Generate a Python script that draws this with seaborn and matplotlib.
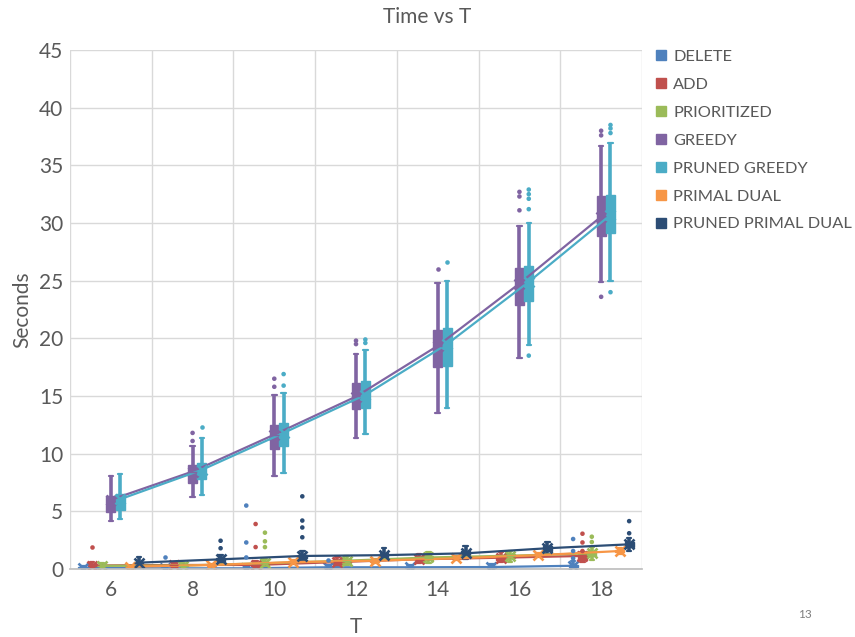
import numpy as np
import pandas as pd
import matplotlib
matplotlib.use("Agg")
import matplotlib.pyplot as plt
from matplotlib.lines import Line2D
import seaborn as sns

# ---- data -------------------------------------------------------------
t_labels = ["6", "8", "10", "12", "14", "16", "18"]
series = ["DELETE", "ADD", "PRIORITIZED", "GREEDY", "PRUNED GREEDY",
          "PRIMAL DUAL", "PRUNED PRIMAL DUAL"]
colors = ["#4F81BD", "#C0504D", "#9BBB59", "#8064A2", "#4BACC6",
          "#F79646", "#2C4D75"]

# Box summaries per T: [whisker low, Q1, median, Q3, whisker high]
delete_box = [[0.02, 0.06, 0.09, 0.14, 0.30], [0.02, 0.04, 0.06, 0.09, 0.20],
              [0.02, 0.04, 0.06, 0.09, 0.20], [0.05, 0.10, 0.14, 0.20, 0.35],
              [0.05, 0.10, 0.14, 0.20, 0.35], [0.05, 0.11, 0.16, 0.22, 0.40],
              [0.10, 0.20, 0.27, 0.38, 0.70]]
add_box = [[0.10, 0.20, 0.28, 0.40, 0.60], [0.15, 0.25, 0.33, 0.45, 0.65],
           [0.15, 0.25, 0.33, 0.45, 0.70], [0.30, 0.45, 0.58, 0.75, 1.00],
           [0.50, 0.70, 0.82, 1.00, 1.30], [0.60, 0.80, 0.95, 1.15, 1.50],
           [0.60, 0.80, 1.10, 1.35, 1.45]]
prioritized_box = [[0.10, 0.20, 0.27, 0.35, 0.50], [0.12, 0.22, 0.30, 0.38, 0.55],
                   [0.20, 0.35, 0.48, 0.62, 0.90], [0.35, 0.55, 0.70, 0.88, 1.10],
                   [0.55, 0.80, 0.98, 1.15, 1.45], [0.65, 0.95, 1.13, 1.30, 1.60],
                   [0.80, 1.15, 1.33, 1.55, 1.90]]
greedy_box = [[4.2, 4.9, 5.9, 6.3, 8.1], [6.2, 7.5, 8.4, 9.0, 10.7],
              [8.1, 10.4, 11.6, 12.5, 15.1], [11.4, 13.9, 15.0, 16.1, 18.6],
              [13.5, 17.5, 19.3, 20.7, 24.8], [18.3, 22.9, 24.8, 26.1, 29.7],
              [24.9, 28.9, 30.6, 32.3, 36.7]]
pruned_greedy_box = [[4.3, 5.1, 5.9, 6.5, 8.2], [6.4, 7.8, 8.4, 9.2, 11.4],
                     [8.3, 10.7, 11.5, 12.7, 15.3], [11.7, 14.0, 14.8, 16.3, 19.0],
                     [14.0, 17.6, 19.2, 20.9, 25.0], [19.4, 23.2, 24.6, 26.3, 30.0],
                     [25.0, 29.1, 30.4, 32.4, 36.9]]
primal_dual_box = [[0.10, 0.15, 0.19, 0.24, 0.30], [0.25, 0.30, 0.34, 0.40, 0.45],
                   [0.45, 0.52, 0.58, 0.66, 0.75], [0.55, 0.64, 0.70, 0.78, 0.90],
                   [0.75, 0.85, 0.92, 1.00, 1.10], [1.00, 1.10, 1.18, 1.28, 1.40],
                   [1.30, 1.45, 1.54, 1.65, 1.80]]
pruned_primal_dual_box = [[0.30, 0.45, 0.55, 0.65, 1.05], [0.50, 0.70, 0.82, 0.95, 1.25],
                          [0.75, 0.98, 1.10, 1.25, 1.60], [0.80, 1.05, 1.18, 1.35, 1.80],
                          [0.90, 1.20, 1.35, 1.52, 2.00], [1.30, 1.60, 1.78, 1.98, 2.30],
                          [1.60, 1.95, 2.12, 2.32, 2.65]]

# Mean run time per T
delete_mean = [0.10, 0.06, 0.06, 0.15, 0.15, 0.17, 0.28]
add_mean = [0.30, 0.35, 0.35, 0.60, 0.84, 0.98, 1.13]
prioritized_mean = [0.28, 0.30, 0.50, 0.72, 1.00, 1.15, 1.36]
greedy_mean = [6.0, 8.45, 11.65, 14.95, 19.35, 24.75, 30.55]
pruned_greedy_mean = [6.05, 8.6, 11.8, 15.1, 19.5, 24.9, 30.7]
primal_dual_mean = [0.20, 0.35, 0.60, 0.72, 0.93, 1.20, 1.56]
pruned_primal_dual_mean = [0.55, 0.84, 1.13, 1.20, 1.36, 1.80, 2.14]

# Outlying runs, keyed by T
delete_out = {"8": [1.0], "10": [5.5, 2.3, 1.0], "12": [0.8], "18": [2.6, 1.56, 0.93]}
add_out = {"6": [1.9], "10": [3.9, 1.9], "18": [3.06, 2.3, 1.56]}
prioritized_out = {"10": [3.15, 2.4, 1.9], "18": [2.8, 2.34]}
greedy_out = {"8": [11.8, 11.1], "10": [16.5, 15.8], "12": [19.8, 19.5],
              "14": [26.0], "16": [32.7, 32.3, 31.1], "18": [38.0, 37.6, 23.6]}
pruned_greedy_out = {"8": [12.3], "10": [16.9, 15.9], "12": [19.9, 19.6],
                     "14": [26.6], "16": [32.9, 32.5, 32.1, 31.2, 18.5],
                     "18": [38.5, 38.2, 37.8, 24.0]}
primal_dual_out = {}
pruned_primal_dual_out = {"8": [1.8, 2.45], "10": [6.3, 4.2, 3.6, 2.75], "18": [4.15, 3.1]}

boxes = [delete_box, add_box, prioritized_box, greedy_box, pruned_greedy_box,
         primal_dual_box, pruned_primal_dual_box]
means = [delete_mean, add_mean, prioritized_mean, greedy_mean, pruned_greedy_mean,
         primal_dual_mean, pruned_primal_dual_mean]
outs = [delete_out, add_out, prioritized_out, greedy_out, pruned_greedy_out,
        primal_dual_out, pruned_primal_dual_out]

box_rows, mean_rows, out_rows = [], [], []
for name, bx, mn, ot in zip(series, boxes, means, outs):
    for t, stats, m in zip(t_labels, bx, mn):
        for v in stats:
            box_rows.append((t, name, v))
        mean_rows.append((t, name, m))
        for v in ot.get(t, []):
            out_rows.append((t, name, v))
box_df = pd.DataFrame(box_rows, columns=["T", "Series", "Seconds"])
mean_df = pd.DataFrame(mean_rows, columns=["T", "Series", "Seconds"])
out_df = pd.DataFrame(out_rows, columns=["T", "Series", "Seconds"])

# ---- style ------------------------------------------------------------
sns.set_theme(style="white")
plt.rcParams["font.family"] = ["Lato", "DejaVu Sans"]
text_gray = "#595959"
grid_gray = "#D9D9D9"

fig = plt.figure(figsize=(8.55, 6.37), dpi=100)
ax = fig.add_axes([70 / 855, 1 - 569 / 637, (642 - 70) / 855, (569 - 50) / 637])
ax.set_axisbelow(True)

sns.boxplot(data=box_df, x="T", y="Seconds", hue="Series", order=t_labels,
            hue_order=series, palette=colors, whis=(0, 100), width=0.8,
            gap=0.04, linewidth=1.0, fliersize=0, legend=False, ax=ax)

# colour every box part in its series colour
for cont, col in zip(ax.containers, colors):
    for b in cont.boxes:
        b.set_facecolor(col)
        b.set_edgecolor(col)
    for art in list(cont.whiskers) + list(cont.caps) + list(cont.medians):
        art.set_color(col)
    for w in cont.whiskers:
        w.set_linewidth(2.6)
    for c in cont.caps:
        c.set_linewidth(1.6)

sns.stripplot(data=out_df, x="T", y="Seconds", hue="Series", order=t_labels,
              hue_order=series, palette=colors, dodge=True, jitter=False,
              size=3.3, linewidth=0, legend=False, ax=ax)

sns.pointplot(data=mean_df, x="T", y="Seconds", hue="Series", order=t_labels,
              hue_order=series, palette=colors, dodge=0.8 * 6 / 7,
              markers="x", errorbar=None, linewidth=1.6, markersize=6.5,
              markeredgewidth=1.9, legend=False, ax=ax)

# ---- axes -------------------------------------------------------------
ax.set_xlim(-0.5, 6.5)
ax.set_ylim(0, 45)
ax.set_yticks(np.arange(0, 46, 5))
ax.set_xticks(range(len(t_labels)))
ax.set_xticklabels(t_labels)
ax.set_xticks(np.arange(-0.5, 7, 1), minor=True)
ax.grid(which="major", axis="y", color=grid_gray, linewidth=1.0)
ax.grid(which="minor", axis="x", color=grid_gray, linewidth=1.0)
ax.grid(which="major", axis="x", visible=False)
ax.tick_params(which="both", length=0, labelsize=15, colors=text_gray)
ax.tick_params(axis="y", pad=5)
ax.tick_params(axis="x", pad=8)
for s in ["top", "right", "left"]:
    ax.spines[s].set_visible(False)
ax.spines["bottom"].set_color("#BFBFBF")

ax.set_xlabel("T", fontsize=15, color=text_gray, labelpad=12)
ax.set_ylabel("Seconds", fontsize=15, color=text_gray, labelpad=5)

fig.text(0.5, 1 - 17 / 637, "Time vs T", ha="center", va="center",
         fontsize=15, color=text_gray)
fig.text(805 / 855, 1 - 615 / 637, "13", ha="center", va="center",
         fontsize=8.5, color="#7F7F7F")

handles = [Line2D([0], [0], marker="s", linestyle="none", markersize=6.5,
                  markerfacecolor=c, markeredgecolor=c) for c in colors]
fig.legend(handles, series, loc="upper left",
           bbox_to_anchor=(648 / 855, 1 - 43 / 637), frameon=False,
           fontsize=11.8, labelcolor=text_gray, handlelength=0.8,
           handletextpad=0.35, labelspacing=0.82, borderaxespad=0)

fig.savefig("out.png", dpi=100)
